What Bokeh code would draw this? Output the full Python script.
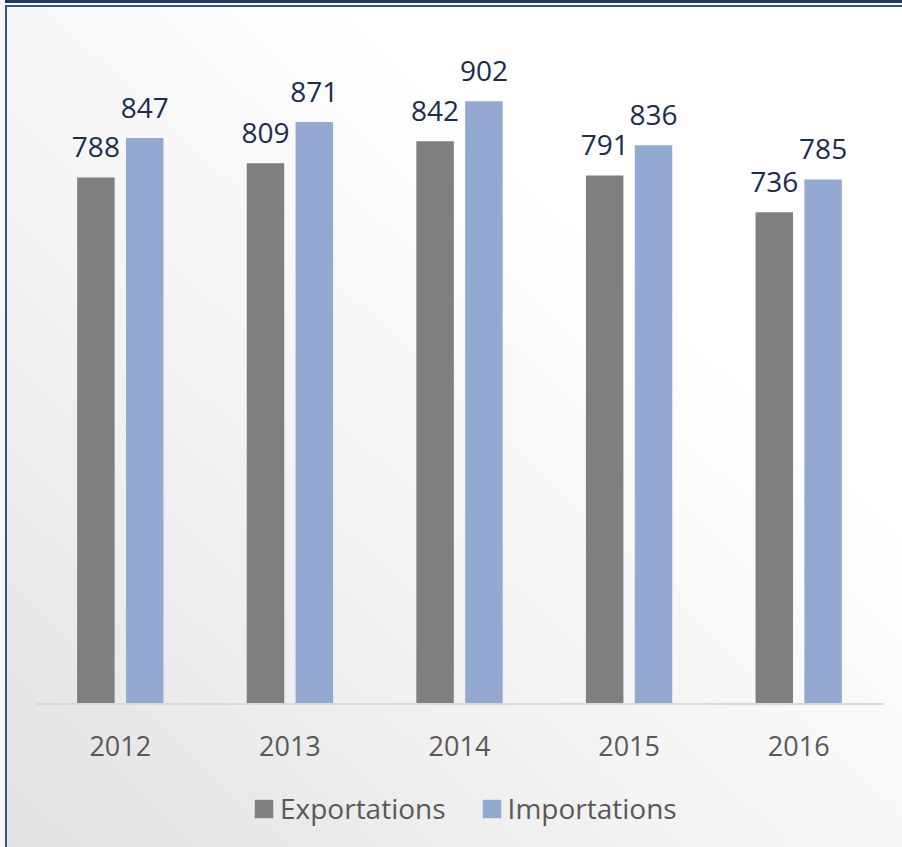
from bokeh.plotting import figure
from bokeh.models import ColumnDataSource, FactorRange, Range1d, Legend, LegendItem, Span
from bokeh.transform import dodge
from bokeh.core.properties import value
from bokeh.embed import file_html
from bokeh.resources import INLINE

years = ["2012", "2013", "2014", "2015", "2016"]
exportations = [788, 809, 842, 791, 736]
importations = [847, 871, 902, 836, 785]
series_names = ["Exportations", "Importations"]

src = ColumnDataSource(dict(
    year=years,
    zero=[0] * len(years),
    exp=exportations,
    imp=importations,
    exp_lbl=[str(v) for v in exportations],
    imp_lbl=[str(v) for v in importations],
))

FONT = value("Open Sans")

p = figure(width=902, height=847, x_range=FactorRange(*years), y_range=Range1d(-214.7, 1052.7),
           output_backend="svg", toolbar_location=None, x_axis_location=None, y_axis_location=None,
           min_border_left=35, min_border_right=19, min_border_top=0, min_border_bottom=0)

p.styles = {
    "background-image": "linear-gradient(to top right, #e2e2e2 0%, #f2f2f2 35%, #ffffff 70%, #ffffff 100%)",
    "box-shadow": ("inset 5px 0 0 #f6f6f6, inset 0 3px 0 #1f3864, inset 0 5px 0 #ffffff, "
                   "inset 0 7px 0 #2f5597, inset 7px 0 0 #2f5597"),
}
p.background_fill_alpha = 0
p.border_fill_alpha = 0
p.outline_line_color = None
p.grid.visible = False

r1 = p.vbar(x=dodge('year', -0.144, range=p.x_range), top='exp', width=0.221, bottom=0,
            source=src, fill_color="#7f7f7f", line_color=None)
r2 = p.vbar(x=dodge('year', 0.144, range=p.x_range), top='imp', width=0.221, bottom=0,
            source=src, fill_color="#93a9d2", line_color=None)

# category axis line (baseline) and category labels
p.add_layout(Span(location=0, dimension="width", line_color="#d9d9d9", line_width=2))
p.text(x='year', y='zero', text='year', source=src, text_align="center",
       text_baseline="alphabetic", y_offset=42, text_font=FONT, text_font_size="27px",
       text_color="#595959")

for col, off in (("exp", -0.144), ("imp", 0.144)):
    p.text(x=dodge('year', off, range=p.x_range), y=col, text=col + "_lbl", source=src,
           text_align="center", text_baseline="alphabetic", y_offset=-30,
           text_font=FONT, text_font_size="28px", text_color="#1c2c4c")

legend = Legend(items=[LegendItem(label=series_names[0], renderers=[r1]),
                       LegendItem(label=series_names[1], renderers=[r2])],
                orientation="horizontal", location=(217, 20),
                label_text_font="Open Sans", label_text_font_size="28px",
                label_text_color="#595959", glyph_width=23, glyph_height=23,
                spacing=34, label_standoff=5, border_line_color=None,
                background_fill_alpha=0, padding=0, margin=0)
p.add_layout(legend)

open("out.html", "w").write(file_html(p, INLINE))
